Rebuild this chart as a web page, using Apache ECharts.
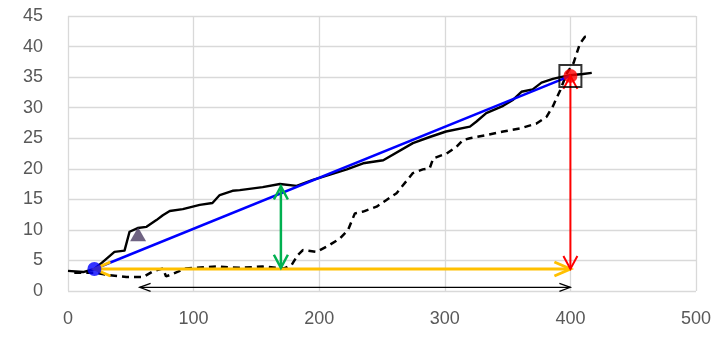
<!DOCTYPE html>
<html>
<head>
<meta charset="utf-8">
<script src="https://cdn.jsdelivr.net/npm/echarts@6/dist/echarts.min.js"></script>
<style>
  html, body { margin: 0; padding: 0; background: #ffffff; }
  #chart { width: 716px; height: 338px; }
</style>
</head>
<body>
<div id="chart"></div>
<script>
// Axis ticks
var xTicks = [0, 100, 200, 300, 400, 500];
var yTicks = [0, 5, 10, 15, 20, 25, 30, 35, 40, 45];

// Cumulative curve (solid)
var solidX = [0, 12, 21, 28, 37, 45, 49, 55.5, 62.5, 70.4, 75.5, 81, 91.4, 104.9, 115, 120.8, 131, 136.8, 155, 168.7, 182, 195, 208, 222, 235, 251, 274.6, 288, 301, 320, 325, 333, 346.5, 354.5, 361, 370, 377, 386, 392, 400, 410, 417];
var solidY = [3.3, 3.1, 3.6, 4.8, 6.4, 6.6, 9.7, 10.3, 10.5, 11.6, 12.4, 13.1, 13.4, 14.1, 14.4, 15.7, 16.4, 16.5, 17.0, 17.5, 17.2, 18.2, 19.0, 19.9, 20.9, 21.4, 24.2, 25.2, 26.1, 26.9, 27.7, 29.1, 30.3, 31.3, 32.6, 33.0, 34.1, 34.7, 35.0, 35.3, 35.5, 35.7];

// Comparison curve (dashed)
var dashedX = [5, 21, 33, 46.5, 60, 67.5, 75.7, 78, 81, 94, 118, 137, 155, 172, 178, 183, 187, 198, 208, 216.5, 223, 228.4, 235, 245.7, 253.6, 261.6, 266.7, 274.6, 282.5, 288, 290.8, 301.4, 309.4, 314.5, 320, 333, 346.5, 360, 373, 381, 386, 392, 397, 402.5, 407.6, 411.6, 415.5];
var dashedY = [3.0, 3.0, 2.6, 2.3, 2.3, 3.2, 3.7, 2.4, 2.6, 3.7, 4.0, 3.8, 4.0, 3.7, 4.25, 5.9, 6.7, 6.4, 7.5, 8.6, 10.0, 12.7, 13.0, 13.8, 14.9, 16.0, 17.3, 19.3, 19.9, 20.1, 21.7, 22.5, 23.6, 24.7, 25.0, 25.5, 26.1, 26.6, 27.4, 28.5, 30.2, 32.9, 35.6, 37.3, 40.5, 41.6, 41.6];

// Key points
var startPoint = [21, 3.6];
var endPoint = [400, 35.2];
var trianglePoint = [55.8, 9.3];

// Arrows: [x1, y1, x2, y2]
var greenArrow = [169.5, 17.1, 169.5, 3.8];
var orangeArrow = [21, 3.6, 400, 3.6];
var redArrow = [400, 35.2, 400, 3.6];
var blackArrow = [57, 0.6, 400, 0.6];

function zip(xs, ys) {
  return xs.map(function (x, i) { return [x, ys[i]]; });
}

// Draws a straight segment with open V heads at both ends
function arrowSeries(values, color, width, headLen, headHalf, z) {
  return {
    type: 'custom',
    coordinateSystem: 'cartesian2d',
    z: z,
    silent: true,
    clip: false,
    data: [values],
    renderItem: function (params, api) {
      var a = api.coord([api.value(0), api.value(1)]);
      var b = api.coord([api.value(2), api.value(3)]);
      var dx = b[0] - a[0], dy = b[1] - a[1];
      var len = Math.sqrt(dx * dx + dy * dy);
      var ux = dx / len, uy = dy / len;
      var nx = -uy, ny = ux;
      function head(tip, sx, sy) {
        var bx = tip[0] - sx * headLen, by = tip[1] - sy * headLen;
        return {
          type: 'polyline',
          shape: { points: [[bx + nx * headHalf, by + ny * headHalf], tip, [bx - nx * headHalf, by - ny * headHalf]] },
          style: { stroke: color, lineWidth: width, fill: null, lineJoin: 'miter' }
        };
      }
      return {
        type: 'group',
        children: [
          { type: 'line', shape: { x1: a[0], y1: a[1], x2: b[0], y2: b[1] }, style: { stroke: color, lineWidth: width } },
          head(a, -ux, -uy),
          head(b, ux, uy)
        ]
      };
    }
  };
}

var chart = echarts.init(document.getElementById('chart'), null, { renderer: 'canvas' });

var labelStyle = { color: '#595959', fontSize: 18, fontFamily: 'Liberation Sans, Arial, sans-serif' };

chart.setOption({
  animation: false,
  backgroundColor: '#ffffff',
  grid: { left: 68, right: 20, top: 16, bottom: 47, containLabel: false },
  xAxis: {
    type: 'value',
    min: xTicks[0],
    max: xTicks[xTicks.length - 1],
    interval: xTicks[1] - xTicks[0],
    axisLine: { show: false },
    axisTick: { show: false },
    axisLabel: Object.assign({ margin: 19 }, labelStyle),
    splitLine: { show: true, lineStyle: { color: '#d9d9d9', width: 1.3 } }
  },
  yAxis: {
    type: 'value',
    min: yTicks[0],
    max: yTicks[yTicks.length - 1],
    interval: yTicks[1] - yTicks[0],
    axisLine: { show: false },
    axisTick: { show: false },
    axisLabel: Object.assign({ margin: 25 }, labelStyle),
    splitLine: { show: true, lineStyle: { color: '#d9d9d9', width: 1.3 } }
  },
  series: [
    {
      type: 'line',
      data: zip(dashedX, dashedY),
      symbol: 'none',
      z: 2,
      lineStyle: { color: '#000000', width: 2.5, type: [7, 5] }
    },
    {
      type: 'line',
      data: zip(solidX, solidY),
      symbol: 'none',
      z: 3,
      lineStyle: { color: '#000000', width: 2.4, join: 'round' }
    },
    {
      type: 'line',
      data: [startPoint, endPoint],
      symbol: 'none',
      z: 4,
      lineStyle: { color: '#0000ff', width: 2.5 }
    },
    arrowSeries(blackArrow, '#000000', 1.2, 11, 4, 5),
    arrowSeries(orangeArrow, '#ffc000', 3, 16, 7, 6),
    arrowSeries(greenArrow, '#00b050', 2.5, 13, 7, 7),
    arrowSeries(redArrow, '#ff0000', 2, 13, 7, 8),
    {
      type: 'scatter',
      data: [trianglePoint],
      symbol: 'triangle',
      symbolSize: [16, 14],
      z: 9,
      itemStyle: { color: '#4b3c63' }
    },
    {
      type: 'scatter',
      data: [endPoint],
      symbol: 'rect',
      symbolSize: 22,
      z: 9,
      itemStyle: { color: 'rgba(0,0,0,0)', borderColor: '#000000', borderWidth: 2 }
    },
    {
      type: 'scatter',
      data: [startPoint],
      symbol: 'circle',
      symbolSize: 14,
      z: 10,
      itemStyle: { color: '#0000ff' }
    },
    {
      type: 'scatter',
      data: [endPoint],
      symbol: 'circle',
      symbolSize: 14,
      z: 10,
      itemStyle: { color: '#ff0000' }
    }
  ]
});
</script>
</body>
</html>
